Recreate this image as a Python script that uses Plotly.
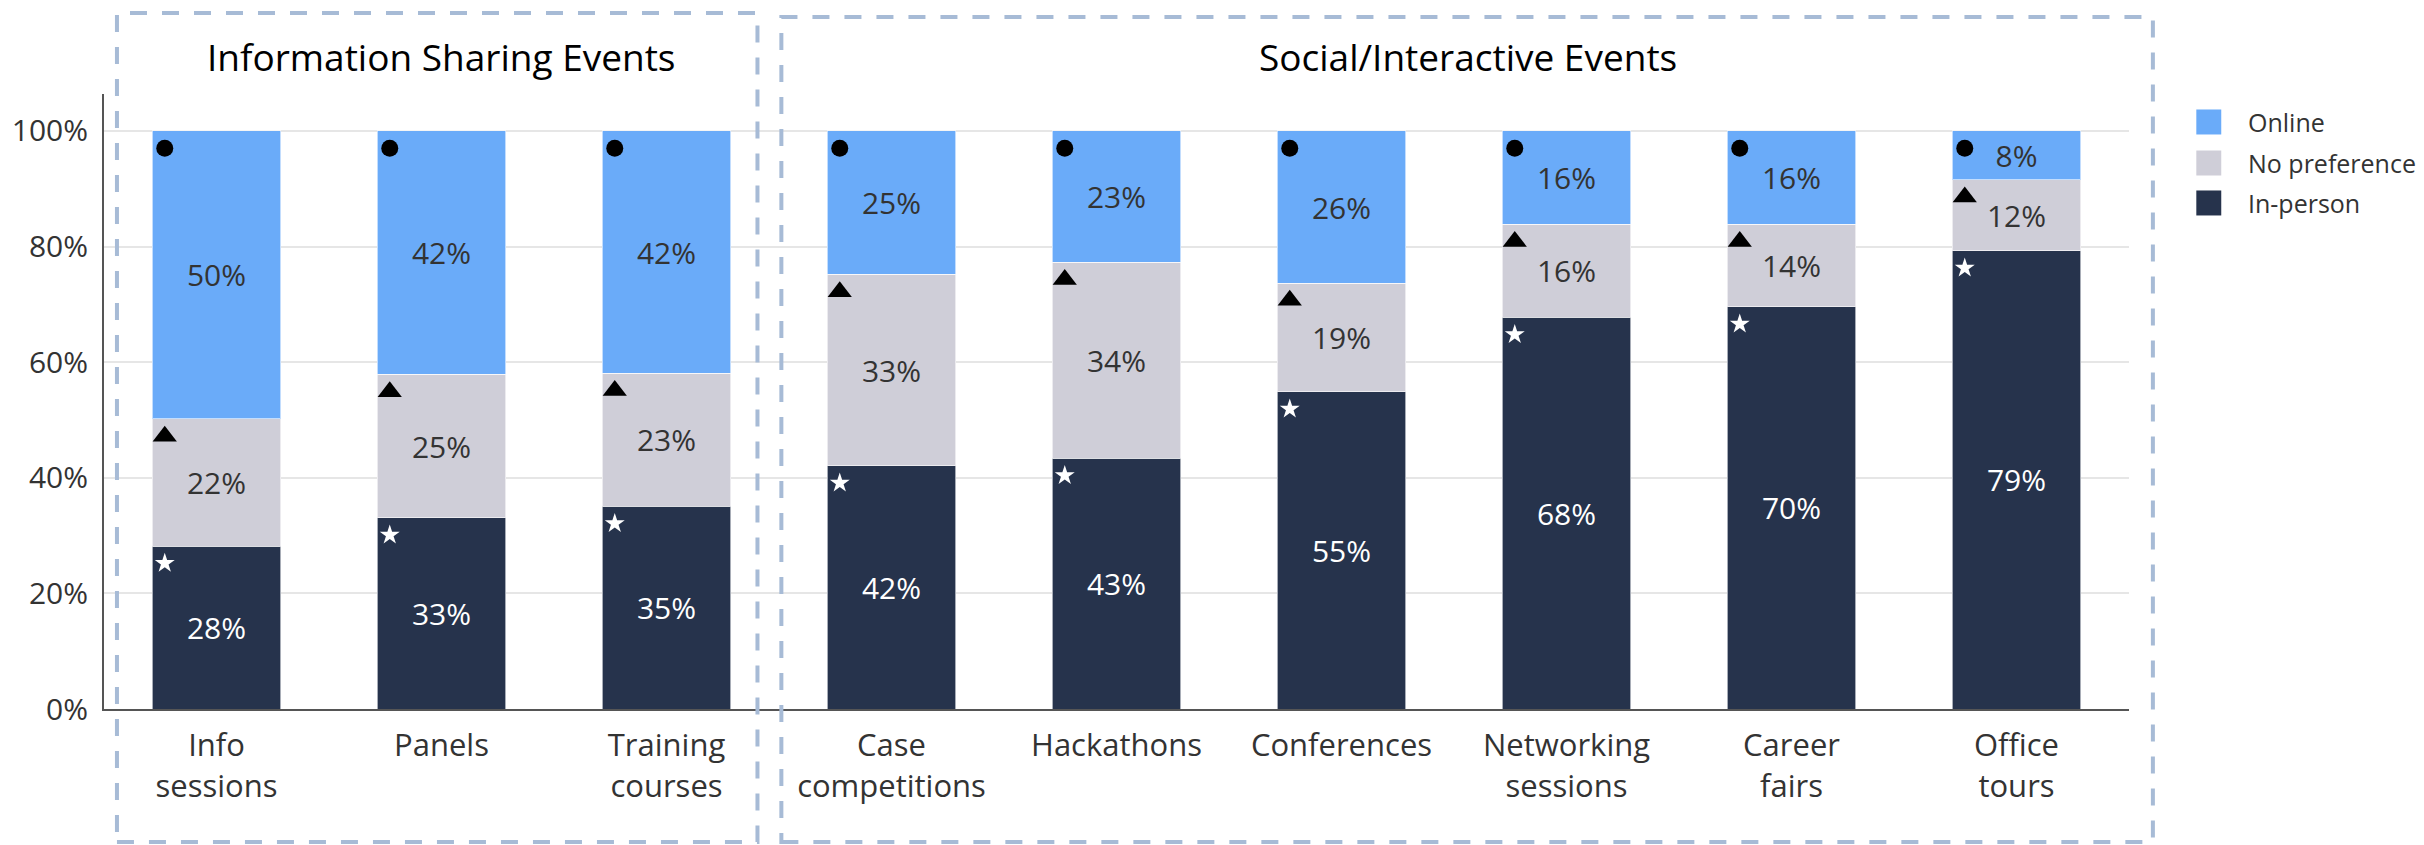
import plotly.graph_objects as go

categories = ["Info<br>sessions", "Panels", "Training<br>courses", "Case<br>competitions",
              "Hackathons", "Conferences", "Networking<br>sessions", "Career<br>fairs", "Office<br>tours"]
in_person = [28.2, 33.1, 35.1, 42.1, 43.4, 54.9, 67.8, 69.6, 79.3]
no_preference = [22.0, 24.8, 23.0, 33.1, 33.9, 18.8, 16.1, 14.3, 12.3]
online = [49.8, 42.1, 41.9, 24.8, 22.7, 26.3, 16.1, 16.1, 8.4]
series_names = ["In-person", "No preference", "Online"]
y_ticks = [0, 20, 40, 60, 80, 100]
y_tick_labels = ["0%", "20%", "40%", "60%", "80%", "100%"]
group_titles = ["Information Sharing Events", "Social/Interactive Events"]

C_ONLINE = "#6aabf9"
C_NOPREF = "#cfced8"
C_INPERSON = "#26334c"
TXT = "#333333"
FONT = "Open Sans"
BOX = "#a7bbd6"

x_idx = list(range(len(categories)))

fig = go.Figure()
series = [(in_person, C_INPERSON, "white", series_names[0]),
          (no_preference, C_NOPREF, TXT, series_names[1]),
          (online, C_ONLINE, TXT, series_names[2])]
for vals, col, tcol, name in series:
    fig.add_trace(go.Bar(
        x=x_idx, y=vals, name=name, marker=dict(color=col, line=dict(color="rgba(255,255,255,0.6)", width=1)),
        text=[f"{round(v)}%" for v in vals], textposition="inside", insidetextanchor="middle",
        textangle=0, constraintext="none",
        textfont=dict(family=FONT, size=30, color=tcol), showlegend=False, hoverinfo="skip"))

# markers at the top-left of each segment
tops_ip = in_person
tops_np = [a + b for a, b in zip(in_person, no_preference)]
tops_on = [a + b + c for a, b, c in zip(in_person, no_preference, online)]
mx = [i - 0.23 for i in x_idx]
fig.add_trace(go.Scatter(x=mx, y=[t - 3.0 for t in tops_on], mode="markers",
                         marker=dict(symbol="circle", size=17, color="black"),
                         showlegend=False, hoverinfo="skip"))
fig.add_trace(go.Scatter(x=mx, y=[t - 3.0 for t in tops_np], mode="markers",
                         marker=dict(symbol="triangle-up", size=21, color="black"),
                         showlegend=False, hoverinfo="skip"))
fig.add_trace(go.Scatter(x=mx, y=[t - 3.0 for t in tops_ip], mode="markers",
                         marker=dict(symbol="star", size=15, color="white"),
                         showlegend=False, hoverinfo="skip"))

# custom legend (overlay axis in paper units)
leg_y = [0.9545, 0.8878, 0.8228]
leg_cols = [C_ONLINE, C_NOPREF, C_INPERSON]
leg_names = ["Online", "No preference", "In-person"]
leg_syms = ["circle", "triangle-up", "star"]
leg_symcols = ["black", "black", "white"]
leg_sizes = [15, 18, 14]
lx = 1.0394
hw, hh = 12.5 / 2030, 12.5 / 615
shapes = []
for yy, col in zip(leg_y, leg_cols):
    shapes.append(dict(type="rect", xref="paper", yref="paper", x0=lx - hw, x1=lx + hw,
                       y0=yy - hh, y1=yy + hh, fillcolor=col, line=dict(width=0), layer="above"))
fig.add_trace(go.Scatter(x=[lx] * 3, y=leg_y, xaxis="x2", yaxis="y2", mode="markers",
                         marker=dict(symbol=leg_syms, size=leg_sizes, color=leg_symcols),
                         cliponaxis=False, showlegend=False, hoverinfo="skip"))

annotations = []
for yy, nm in zip(leg_y, leg_names):
    annotations.append(dict(x=(2246 - 99) / 2030, y=yy, xref="paper", yref="paper", text=nm, showarrow=False,
                            xanchor="left", yanchor="middle", font=dict(family=FONT, size=25, color=TXT)))

# dashed group boxes
dash = "17px,15px"
shapes.append(dict(type="rect", xref="paper", yref="paper", x0=0.0064, x1=0.3227, y0=-0.2163, y1=1.1317,
                   line=dict(color=BOX, width=4, dash=dash), fillcolor="rgba(0,0,0,0)", layer="above"))
shapes.append(dict(type="rect", xref="paper", yref="paper", x0=0.3345, x1=1.0118, y0=-0.2163, y1=1.1252,
                   line=dict(color=BOX, width=4, dash=dash), fillcolor="rgba(0,0,0,0)", layer="above"))

annotations.append(dict(x=(437 - 99) / 2030, y=(709 - 56) / 615, xref="paper", yref="paper",
                        text=group_titles[0], showarrow=False, xanchor="center", yanchor="middle",
                        font=dict(family=FONT, size=37, color="black")))
annotations.append(dict(x=(1466 - 99) / 2030, y=(709 - 56) / 615, xref="paper", yref="paper",
                        text=group_titles[1], showarrow=False, xanchor="center", yanchor="middle",
                        font=dict(family=FONT, size=37, color="black")))

fig.update_layout(
    barmode="stack", bargap=0.43,
    width=2424, height=845,
    margin=dict(l=99, r=295, t=94, b=136, pad=0),
    paper_bgcolor="white", plot_bgcolor="white",
    font=dict(family=FONT, color=TXT),
    shapes=shapes, annotations=annotations,
    xaxis=dict(tickmode="array", tickvals=x_idx, ticktext=categories, range=[-0.5, 8.5],
               showgrid=False, showline=True, linecolor="#555555", linewidth=2,
               tickfont=dict(family=FONT, size=31, color=TXT), ticks="", zeroline=False,
               ticklabelstandoff=8, fixedrange=True),
    yaxis=dict(range=[0, 106.4], tickmode="array", tickvals=y_ticks, ticktext=y_tick_labels,
               showgrid=True, gridcolor="#e6e6e6", gridwidth=1.5, showline=True, linecolor="#555555",
               linewidth=2, tickfont=dict(family=FONT, size=30, color=TXT), ticks="", zeroline=False,
               ticklabelstandoff=8),
    xaxis2=dict(overlaying="x", range=[0, 1], visible=False, fixedrange=True),
    yaxis2=dict(overlaying="y", range=[0, 1], visible=False, fixedrange=True),
)

fig.write_html("out.html", config={"displayModeBar": False},
               post_script="document.body.style.margin='0';document.body.style.overflow='hidden';")
